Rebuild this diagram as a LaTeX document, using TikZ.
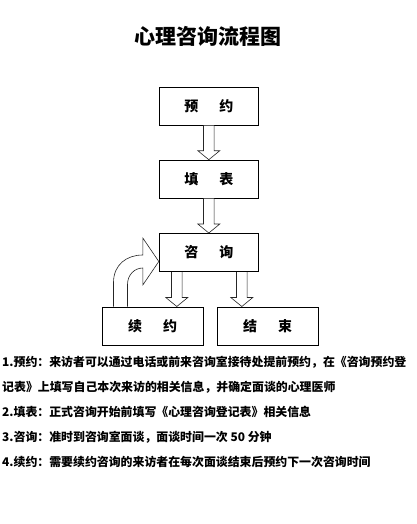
\documentclass[tikz,border=0pt]{standalone}
\usepackage{fontspec}
\setmainfont{Noto Sans CJK SC}
\usetikzlibrary{calc}

\tikzset{
  stepbox/.style={draw, line width=1pt, minimum width=99pt, minimum height=38pt,
    inner sep=0pt, font=\fontsize{14}{14}\selectfont\bfseries},
  blk/.style={draw=black!85, fill=white, line width=0.6pt, line join=miter},
  note/.style={anchor=base west, inner sep=0pt, font=\fontsize{11.9}{12}\selectfont\bfseries}
}

% hollow block arrow pointing down, from #1 to the tip #2
\newcommand{\blkarrow}[2]{%
  \draw[blk] ($(#1)+(-5.3,0)$) -- ($(#2)+(-5.3,-9)$) -- ($(#2)+(-11,-9)$) -- (#2)
    -- ($(#2)+(11,-9)$) -- ($(#2)+(5.3,-9)$) -- ($(#1)+(5.3,0)$);}

\begin{document}
\begin{tikzpicture}[x=1pt,y=-1pt]
\useasboundingbox (0,0) rectangle (417,524);

\node[font=\fontsize{21}{21}\selectfont\bfseries] (title) at (208,36) {心理咨询流程图};

\node[stepbox] (yuyue) at (208.8,106.2) {预\hspace{1.5em}约};
\node[stepbox] (tianbiao) at (208.8,179.2) {填\hspace{1.5em}表};
\node[stepbox] (zixun) at (208.8,252.5) {咨\hspace{1.5em}询};
\node[stepbox, minimum width=101pt] (xuyue) at (152.5,326) {续\hspace{1.5em}约};
\node[stepbox, minimum width=101pt] (jieshu) at (267.5,326) {结\hspace{1.5em}束};

\blkarrow{yuyue.south}{tianbiao.north}
\blkarrow{tianbiao.south}{zixun.north}

\coordinate (zl) at ($(zixun.south west)!0.18!(zixun.south east)$);
\coordinate (zr) at ($(zixun.south west)!0.83!(zixun.south east)$);
\blkarrow{zl}{zl |- xuyue.north}
\blkarrow{zr}{zr |- jieshu.north}

% bent arrow back into the consulting box
\coordinate (bo) at ($(xuyue.north west)+(12,0)$);
\coordinate (bi) at ($(xuyue.north west)+(26,0)$);
\coordinate (tip) at ($(zixun.west)+(0,9)$);
\draw[blk] (bo) -- ($(bo)+(0,-24)$) .. controls ($(bo)+(0,-42)$) and ($(tip)+(-32,-6.5)$) .. ($(tip)+(-16,-6.5)$)
  -- ($(tip)+(-16,-23.5)$) -- (tip) -- ($(tip)+(-16,23.5)$) -- ($(tip)+(-16,6.5)$)
  .. controls ($(tip)+(-24,6.5)$) and ($(bi)+(0,-32)$) .. ($(bi)+(0,-22)$) -- (bi);

\node[note] (note1) at (2,366.5) {1.预约：来访者可以通过电话或前来咨询室接待处提前预约，在《咨询预约登};
\node[note] (note1b) at (2,391.5) {记表》上填写自己本次来访的相关信息，并确定面谈的心理医师};
\node[note] (note2) at (2,416.5) {2.填表：正式咨询开始前填写《心理咨询登记表》相关信息};
\node[note] (note3) at (2,441.5) {3.咨询：准时到咨询室面谈，面谈时间一次 50 分钟};
\node[note] (note4) at (2,466.5) {4.续约：需要续约咨询的来访者在每次面谈结束后预约下一次咨询时间};
\end{tikzpicture}
\end{document}
